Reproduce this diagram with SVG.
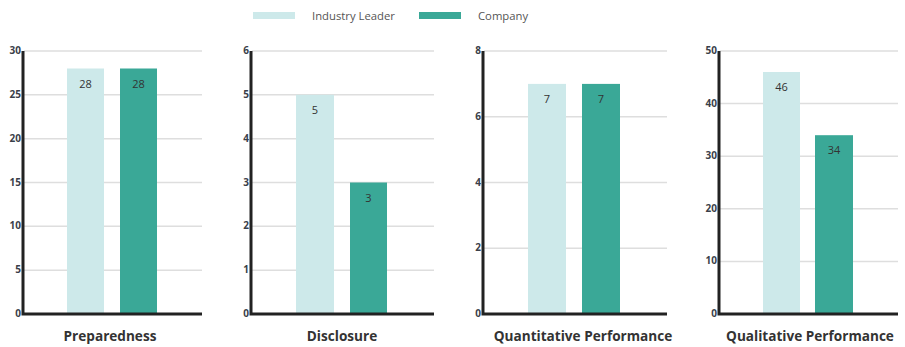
<svg xmlns="http://www.w3.org/2000/svg" width="905" height="347" viewBox="0 0 905 347">
<style>
.grid{stroke:#dedede;stroke-width:1.5}
.axis{stroke:#222;stroke-width:3;fill:none}
.tick{font-family:"Open Sans","Noto Sans",sans-serif;font-size:10px;font-weight:bold;fill:#3a3f4a;text-anchor:end}
.val{font-family:"Open Sans","Noto Sans",sans-serif;font-size:11px;fill:#333;text-anchor:middle}
.title{font-family:"Open Sans","Noto Sans",sans-serif;font-size:13.6px;font-weight:bold;fill:#333;text-anchor:middle}
.leg{font-family:"Open Sans","Noto Sans",sans-serif;font-size:11.3px;fill:#555}
.lt{fill:#cde9ea}
.dk{fill:#3aa897}
</style>
<rect width="905" height="347" fill="#fff"/>
<g id="legend">
<rect class="lt" x="253" y="12" width="42" height="7"/>
<text class="leg" x="312" y="20">Industry Leader</text>
<rect class="dk" x="419" y="12" width="42" height="7"/>
<text class="leg" x="478" y="20">Company</text>
</g>
<g id="chart-preparedness">
<g class="grid"><line x1="24" y1="51" x2="202" y2="51"/><line x1="24" y1="94.8" x2="202" y2="94.8"/><line x1="24" y1="138.7" x2="202" y2="138.7"/><line x1="24" y1="182.5" x2="202" y2="182.5"/><line x1="24" y1="226.3" x2="202" y2="226.3"/><line x1="24" y1="270.2" x2="202" y2="270.2"/></g>
<g class="tick"><text x="21" y="54">30</text><text x="21" y="98">25</text><text x="21" y="142">20</text><text x="21" y="186">15</text><text x="21" y="229">10</text><text x="21" y="273">5</text><text x="21" y="317">0</text></g>
<rect class="lt" x="67" y="68.5" width="37" height="245.5"/>
<rect class="dk" x="120" y="68.5" width="37" height="245.5"/>
<text class="val" x="85.5" y="88">28</text>
<text class="val" x="138.5" y="88">28</text>
<path class="axis" d="M23 51V314H202"/>
<text class="title" x="110" y="341">Preparedness</text>
</g>
<g id="chart-disclosure">
<g class="grid"><line x1="252" y1="51" x2="434" y2="51"/><line x1="252" y1="94.8" x2="434" y2="94.8"/><line x1="252" y1="138.7" x2="434" y2="138.7"/><line x1="252" y1="182.5" x2="434" y2="182.5"/><line x1="252" y1="226.3" x2="434" y2="226.3"/><line x1="252" y1="270.2" x2="434" y2="270.2"/></g>
<g class="tick"><text x="249" y="54">6</text><text x="249" y="98">5</text><text x="249" y="142">4</text><text x="249" y="186">3</text><text x="249" y="229">2</text><text x="249" y="273">1</text><text x="249" y="317">0</text></g>
<rect class="lt" x="296" y="94.8" width="38" height="219.2"/>
<rect class="dk" x="350" y="182.5" width="37" height="131.5"/>
<text class="val" x="315" y="114">5</text>
<text class="val" x="368.5" y="202">3</text>
<path class="axis" d="M251 51V314H434"/>
<text class="title" x="342" y="341">Disclosure</text>
</g>
<g id="chart-quantitative">
<g class="grid"><line x1="484" y1="51" x2="667" y2="51"/><line x1="484" y1="116.75" x2="667" y2="116.75"/><line x1="484" y1="182.5" x2="667" y2="182.5"/><line x1="484" y1="248.25" x2="667" y2="248.25"/></g>
<g class="tick"><text x="481" y="54">8</text><text x="481" y="120">6</text><text x="481" y="186">4</text><text x="481" y="251">2</text><text x="481" y="317">0</text></g>
<rect class="lt" x="528" y="83.9" width="38" height="230.1"/>
<rect class="dk" x="582" y="83.9" width="38" height="230.1"/>
<text class="val" x="547" y="103">7</text>
<text class="val" x="601" y="103">7</text>
<path class="axis" d="M483 51V314H667"/>
<text class="title" x="583" y="341">Quantitative Performance</text>
</g>
<g id="chart-qualitative">
<g class="grid"><line x1="720" y1="51" x2="898" y2="51"/><line x1="720" y1="103.6" x2="898" y2="103.6"/><line x1="720" y1="156.2" x2="898" y2="156.2"/><line x1="720" y1="208.8" x2="898" y2="208.8"/><line x1="720" y1="261.4" x2="898" y2="261.4"/></g>
<g class="tick"><text x="717" y="54">50</text><text x="717" y="107">40</text><text x="717" y="159">30</text><text x="717" y="212">20</text><text x="717" y="264">10</text><text x="717" y="317">0</text></g>
<rect class="lt" x="763" y="72" width="37" height="242"/>
<rect class="dk" x="815" y="135.2" width="38" height="178.8"/>
<text class="val" x="781.5" y="91">46</text>
<text class="val" x="834" y="154">34</text>
<path class="axis" d="M719 51V314H898"/>
<text class="title" x="810" y="341">Qualitative Performance</text>
</g>
</svg>
